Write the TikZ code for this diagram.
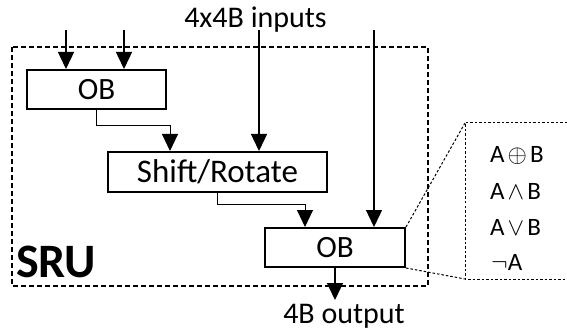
\documentclass[tikz,border=0pt]{standalone}
\usepackage{fontspec}
\setmainfont{Carlito}
\usetikzlibrary{arrows.meta}
\newcommand{\bigop}[1]{\hspace{3pt}{\fontsize{31}{31}\selectfont$#1$}\hspace{3pt}}
\begin{document}
\begin{tikzpicture}[x=1pt,y=-1pt,
  blk/.style={draw,line width=2pt,minimum width=#1,inner sep=0pt,minimum height=39pt,font=\fontsize{31}{31}\selectfont},
  inarrow/.style={line width=1.4pt,-{Triangle[length=17pt,width=16pt]}},
  link/.style={line width=1pt,-{Triangle[length=17pt,width=16pt]}},
  txt/.style={inner sep=0pt,font=\fontsize{30}{30}\selectfont},
  optxt/.style={inner sep=0pt,anchor=base west,font=\fontsize{25}{25}\selectfont},
  dotln/.style={line width=1pt,dash pattern=on 2.5pt off 2pt}]
\useasboundingbox (0,0) rectangle (567,331);
% SRU frame
\draw[line width=2.3pt,dash pattern=on 5pt off 3pt] (12,47) rectangle (428,286);
\node[inner sep=0pt,anchor=base west,font=\fontsize{48}{48}\selectfont\bfseries] (sru) at (16,277) {SRU};
% blocks
\node[blk=139pt] (ob1) at (96.5,89.5) {OB};
\node[blk=219pt,minimum height=40pt,font=\fontsize{33}{33}\selectfont] (sr) at (217.5,172) {Shift/Rotate};
\node[blk=140pt] (ob2) at (335,247.5) {OB};
% inputs
\node[txt,anchor=base] (inp) at (255.5,28) {4x4B inputs};
\coordinate (i1) at (66,30);
\coordinate (i2) at (124,30);
\coordinate (i3) at (259,30);
\coordinate (i4) at (374,30);
\draw[inarrow] (i1) -- (i1 |- ob1.north);
\draw[inarrow] (i2) -- (i2 |- ob1.north);
\draw[inarrow] (i3) -- (i3 |- sr.north);
\draw[inarrow] (i4) -- (i4 |- ob2.north);
% links
\draw[link] (ob1.south) -- ++(0,16) -| (170,0 |- sr.north);
\draw[link] (sr.south) -- ++(0,11) -| (305,0 |- ob2.north);
% output
\coordinate (o1) at (335,300);
\draw[inarrow] (ob2.south) -- (o1);
\node[txt,anchor=base] (out) at (344,323) {4B output};
% operator panel
\coordinate (pt) at (465,123);
\coordinate (pb) at (465,279);
\coordinate (rt) at (567,123);
\coordinate (rb) at (567,279);
\draw[dotln] (ob2.north east) -- (pt);
\draw[dotln] (ob2.south east) -- (pb);
\draw[dotln] (rt) -- (pt) -- (pb) -- (rb);
\node[optxt] (op1) at (490,163) {A\bigop{\oplus}B};
\node[optxt] (op2) at (490,200) {A\bigop{\wedge}B};
\node[optxt] (op3) at (490,235) {A\bigop{\vee}B};
\node[optxt] (op4) at (491,270) {$\neg$A};
\end{tikzpicture}
\end{document}
